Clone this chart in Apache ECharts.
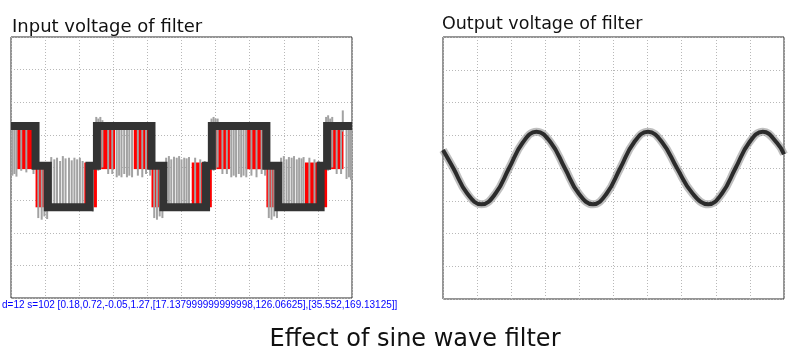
<!DOCTYPE html>
<html>
<head>
<meta charset="utf-8">
<script src="https://cdn.jsdelivr.net/npm/echarts@6/dist/echarts.min.js"></script>
<style>html,body{margin:0;padding:0;background:#fff}#c{width:800px;height:358px}</style>
</head>
<body>
<div id="c"></div>
<script>
const inputTitle = 'Input voltage of filter';
const outputTitle = 'Output voltage of filter';
const mainTitle = 'Effect of sine wave filter';

const inputStep = [[0,1.27],[0.72,1.27],[0.72,0.05],[1.08,0.05],[1.08,-1.22],[2.30,-1.22],[2.30,0.05],[2.52,0.05],[2.52,1.27],[4.12,1.27],[4.12,0.05],[4.47,0.05],[4.47,-1.22],[5.72,-1.22],[5.72,0.05],[5.89,0.05],[5.89,1.27],[7.49,1.27],[7.49,0.05],[7.84,0.05],[7.84,-1.22],[9.08,-1.22],[9.08,0.05],[9.27,0.05],[9.27,1.27],[10,1.27]];
const inputDense = [[0.18,0.72,-0.05,1.27],[0.72,1.2,-1.22,0.15],[2.15,2.52,-1.22,0.15],[2.62,3.05,-0.05,1.27],[3.6,4.12,-0.05,1.27],[4.12,4.5,-1.22,0.15],[5.3,5.89,-1.22,0.15],[6.0,6.42,-0.05,1.27],[6.88,7.49,-0.05,1.27],[7.49,7.86,-1.22,0.15],[8.62,9.27,-1.22,0.15],[9.32,9.75,-0.05,1.27]];
const inputSpikes = [[0.04,-0.25,1.27],[0.10,-0.2,1.27],[0.16,-0.28,1.27],[0.3,-0.1,1.27],[0.45,-0.15,1.27],[0.66,-0.2,1.3],
[0.8,-1.55,0.05],[0.9,-1.6,0.05],[0.98,-1.5,0.05],[1.06,-1.58,0.05],
[1.18,-1.22,0.32],[1.27,-1.22,0.25],[1.35,-1.22,0.3],[1.44,-1.22,0.2],[1.52,-1.22,0.35],[1.6,-1.22,0.28],[1.7,-1.22,0.3],[1.78,-1.22,0.22],[1.86,-1.22,0.3],[1.94,-1.22,0.25],[2.02,-1.22,0.3],[2.1,-1.22,0.2],[2.3,-1.3,0.1],[2.4,-1.35,0.1],
[2.5,-0.05,1.55],[2.56,-0.1,1.5],[2.62,-0.05,1.55],[2.68,0.0,1.45],[2.85,-0.2,1.3],[2.97,-0.2,1.3],
[3.1,-0.3,1.27],[3.17,-0.25,1.27],[3.24,-0.3,1.27],[3.32,-0.2,1.27],[3.4,-0.3,1.27],[3.47,-0.25,1.27],[3.55,-0.3,1.27],[3.72,-0.25,1.27],[3.85,-0.3,1.27],[3.96,-0.2,1.27],[4.08,-0.25,1.3],
[4.2,-1.55,0.05],[4.28,-1.6,0.05],[4.36,-1.5,0.05],[4.44,-1.55,0.05],
[4.55,-1.22,0.3],[4.63,-1.22,0.35],[4.7,-1.22,0.25],[4.78,-1.22,0.33],[4.86,-1.22,0.3],[4.93,-1.22,0.35],[5.0,-1.22,0.25],[5.08,-1.22,0.3],[5.15,-1.22,0.28],[5.22,-1.22,0.32],[5.4,-1.3,0.3],[5.55,-1.25,0.25],[5.68,-1.3,0.2],
[5.88,0.0,1.5],[5.94,-0.1,1.55],[6.0,-0.05,1.5],[6.06,0.0,1.5],[6.2,-0.2,1.3],[6.33,-0.2,1.3],
[6.46,-0.3,1.27],[6.53,-0.25,1.27],[6.6,-0.3,1.27],[6.68,-0.2,1.27],[6.75,-0.3,1.27],[6.82,-0.25,1.27],[6.9,-0.3,1.27],[7.05,-0.25,1.27],[7.2,-0.3,1.27],[7.35,-0.2,1.27],[7.45,-0.25,1.3],
[7.56,-1.55,0.05],[7.64,-1.6,0.05],[7.72,-1.5,0.05],[7.8,-1.55,0.05],
[7.92,-1.22,0.3],[8.0,-1.22,0.35],[8.08,-1.22,0.25],[8.15,-1.22,0.32],[8.23,-1.22,0.3],[8.3,-1.22,0.35],[8.38,-1.22,0.25],[8.45,-1.22,0.3],[8.52,-1.22,0.28],[8.58,-1.22,0.32],[8.75,-1.3,0.3],[8.9,-1.25,0.25],[9.02,-1.3,0.2],
[9.24,0.0,1.55],[9.3,-0.1,1.6],[9.36,-0.05,1.5],[9.42,0.0,1.55],[9.55,-0.2,1.3],[9.68,-0.2,1.3],[9.73,1.1,1.75],
[9.84,-0.35,1.27],[9.91,-0.3,1.27],[9.97,-0.38,1.27]];
const outputWave = [[0,0.55],[0.3,0.0],[0.71,-0.78],[1.13,-1.11],[1.54,-0.78],[1.94,0.0],[2.34,0.78],[2.74,1.11],[3.16,0.78],[3.57,0.0],[3.98,-0.78],[4.40,-1.11],[4.80,-0.78],[5.20,0.0],[5.60,0.78],[6.01,1.11],[6.43,0.78],[6.86,0.0],[7.32,-0.78],[7.78,-1.11],[8.18,-0.78],[8.58,0.0],[8.98,0.78],[9.38,1.11],[9.8,0.76],[10,0.42]];
const xDivs = [0, 10, 1];
const yDivs = [-4, 4, 1];

const chart = echarts.init(document.getElementById('c'));
const FONT = '"DejaVu Sans", Verdana, sans-serif';
let dbg = {dense: 0, spk: 0, first: ''};

function xAxisFor(i) {
  return {gridIndex: i, type: 'value', min: xDivs[0], max: xDivs[1], interval: xDivs[2],
    axisLabel: {show: false}, axisTick: {show: false}, axisLine: {show: false},
    splitLine: {show: true, lineStyle: {color: '#b8b8b8', width: 1, type: [1, 2]}}};
}
function yAxisFor(i) {
  return {gridIndex: i, type: 'value', min: yDivs[0], max: yDivs[1], interval: yDivs[2],
    axisLabel: {show: false}, axisTick: {show: false}, axisLine: {show: false},
    splitLine: {show: true, lineStyle: {color: '#b8b8b8', width: 1, type: [1, 2]}}};
}

let err = '';
try {
chart.setOption({
  animation: false,
  backgroundColor: '#fff',
  grid: [
    {left: 11, top: 37, width: 341, height: 261, show: true, borderColor: '#2a2a2a', borderWidth: 1},
    {left: 443, top: 37, width: 341, height: 262, show: true, borderColor: '#2a2a2a', borderWidth: 1}
  ],
  xAxis: [xAxisFor(0), xAxisFor(1)],
  yAxis: [yAxisFor(0), yAxisFor(1)],
  series: [
    {
      type: 'custom', xAxisIndex: 0, yAxisIndex: 0, z: 3,
      data: inputDense,
      renderItem: function (params, api) {
        dbg.dense++;
        const a = api.coord([api.value(0), api.value(3)]);
        const b = api.coord([api.value(1), api.value(2)]);
        if (!dbg.first) dbg.first = JSON.stringify([api.value(0), api.value(1), api.value(2), api.value(3), a, b]);
        return {type: 'rect', shape: {x: a[0], y: a[1], width: b[0] - a[0], height: b[1] - a[1]}, style: {fill: '#ff0000'}};
      }
    },
    {
      type: 'custom', xAxisIndex: 0, yAxisIndex: 0, z: 4,
      data: inputSpikes,
      renderItem: function (params, api) {
        dbg.spk++;
        const a = api.coord([api.value(0), api.value(1)]);
        const b = api.coord([api.value(0), api.value(2)]);
        return {type: 'line', shape: {x1: a[0], y1: a[1], x2: b[0], y2: b[1]}, style: {stroke: '#a2a2a2', lineWidth: 2}};
      }
    },
    {
      type: 'line', xAxisIndex: 0, yAxisIndex: 0, data: inputStep, symbol: 'none', z: 5,
      lineStyle: {color: '#333', width: 8, join: 'miter'}
    },
    {
      type: 'line', xAxisIndex: 1, yAxisIndex: 1, data: outputWave, smooth: 0.45, symbol: 'none',
      lineStyle: {color: '#8a8a8a', width: 8, opacity: 0.55}
    },
    {
      type: 'line', xAxisIndex: 1, yAxisIndex: 1, data: outputWave, smooth: 0.45, symbol: 'none', z: 3,
      lineStyle: {color: '#2b2b2b', width: 4}
    }
  ]
});
} catch (e) { err = 'ERR ' + e.message; }
chart.setOption({
  graphic: [
    {type: 'text', left: 12, top: 18, style: {text: inputTitle, font: '18px ' + FONT, fill: '#111'}},
    {type: 'text', left: 442, top: 15, style: {text: outputTitle, font: '17.5px ' + FONT, fill: '#111'}},
    {type: 'text', x: 415, y: 339.6, style: {text: mainTitle, font: '24px ' + FONT, fill: '#111', align: 'center', verticalAlign: 'middle'}},
    {type: 'text', left: 2, top: 300, style: {text: 'd=' + dbg.dense + ' s=' + dbg.spk + ' ' + dbg.first + ' ' + err, font: '10px sans-serif', fill: '#00f'}}
  ]
});
</script>
</body>
</html>
